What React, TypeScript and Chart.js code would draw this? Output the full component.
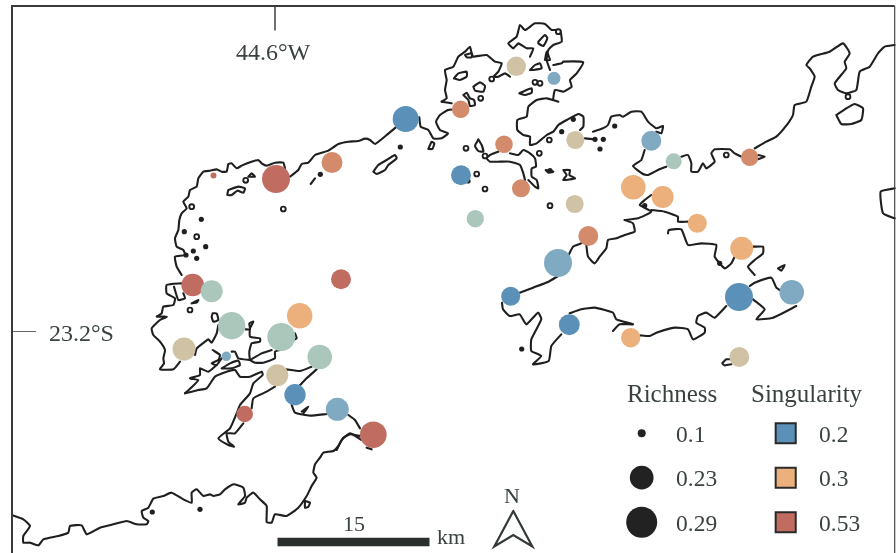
import React, { useEffect, useRef } from "react";
import { Chart, registerables } from "chart.js";

Chart.register(...registerables);

// Map coordinates: traced polylines, flat x,y lists, in map sheet units
const westShoreA = [1190,380,1160,405,1125,432,1110,420,1095,416,1075,423,1045,425,1015,432,985,452,965,458,945,465,925,488,905,492,895,510,870,530];
const westShoreB = [855,505,850,488,825,488,800,497,785,490,775,480,750,487,725,497,710,505,695,490,685,492,680,515,665,515,650,508,630,512,610,515,595,535,590,560,570,570,565,590,550,605,560,625,545,640,538,660,535,690,525,715,530,740,550,750,555,765,525,770,530,800,545,825];
const westIslandA = [1120,515,1135,495,1160,480,1185,465,1190,475,1165,495,1155,510,1130,522,1120,515];
const westIslandB = [685,570,715,560,735,565,730,578,712,572,695,585,682,585,685,570];
const westIslandC = [745,530,755,520,765,530,745,530];
const westIslandD = [1285,447,1295,425,1303,430,1297,447,1285,447];
const westIslandE = [932,552,945,535];
const eastOfBlue = [1258,352,1262,380,1285,390,1300,415,1325,415,1344,400,1320,390,1308,365,1320,345,1344,330,1360,328];

// South-west bays
const bayWest = [95,40,50,45,50,70,75,85,70,105,40,110,35,130,20,140,50,140,30,150,5,175,10,195,30,215,45,240,40,265,42,280,30,298,70,298,90,275];
const bayWestB = [72,50,85,90,105,85,100,70];
const bayIsletA = [125,100,145,90,140,98,125,100];
const bayLoop = [188,130,200,130,205,150,190,155,185,140,188,130];
const bayTanRight = [135,255,140,235,165,215,175,208,185,218,200,190,205,165];
const bayTealRight = [287,178,300,178,298,160,310,155,300,175,300,200,330,205,330,215,305,220,298,245,300,270,315,278,340,278,375,265,375,245,405,235];
const bayBranch = [300,270,335,250,365,240];
const bayMiddle = [245,245,255,245,265,265,300,270];
const bayHook = [188,240,210,255,205,270,185,280,200,285,215,265];
const bayIsland = [215,295,240,280,265,272,270,285,245,295,215,295];
const bayFringe = [105,370,125,352,145,330,120,325,150,315,150,295,175,305,200,285];
const bayPeninsula = [105,370,145,360,170,355,195,320,230,305,255,300,270,320,300,320,335,305,338,315,310,340,300,370,270,405,260,430,240,475,205,505,235,525,252,530,235,515,230,490,255,490,280,460];
const bayPeninsulaB = [305,415,310,385,350,365,375,350];
const bayRim = [410,298,450,303,485,290];
const bayRimB = [500,298,470,325,450,345];
const bayShoreA = [425,405,435,428,480,437,530,432];
const bayShoreIslet = [455,425,475,410,460,430];
const bayShoreB = [595,435,615,450,630,475];
const bayEnd = [635,510,600,490,575,510,560,540];
const bayNib = [435,190,440,205,430,210];
const shoreSouthC = [1100,515,1115,520];
const greatShore = [1080,480,1050,475,1030,485,1015,510,1000,525,970,530,960,545,945,565,940,590,950,605,935,630,920,660,895,695,860,720,825,715,815,740,800,738,800,690,780,670,760,650,740,665,735,680,715,685,735,660,730,635,700,625,675,640,660,655,640,660,630,655,610,660,590,640,575,650,575,680,550,670,515,650,490,660,460,668,445,695,425,705,430,725,445,735,440,745,410,745,380,735,340,745,300,755,260,775,245,748,210,750,205,770,175,780,130,790,115,808,90,800,70,800,70,780,90,750,70,730,37,718];
const greatShoreIsland = [915,675,930,680,925,692,915,695,915,675];

// North-central archipelago
const archA = [35,245,50,235,45,210,50,180,45,150,70,140,85,110,105,95,120,80,125,100,130,110,170,105,195,125,215,130,205,155,190,170,205,170,225,160,240,170];
const archA2 = [35,245,65,250];
const archLoopA = [72,175,85,160,110,155,110,170,90,180,72,175];
const archLoopB = [105,105,125,100,125,112,110,112,105,105];
const archLoopC = [130,200,150,187,165,198,160,215,135,212,130,200];
const archLoopD = [100,225,110,218,120,235,132,240,135,255,120,258,115,240,100,225];
const archNorth = [300,110,310,85,290,85,265,70,250,85,235,70,260,50,270,15,285,30,315,10,345,12,365,30,390,30,395,65,370,75,355,90,350,120,360,150];
const archBlob = [345,120,350,95,360,120,345,120];
const archLake = [325,65,345,45,352,55,340,78,325,70,325,65];
const archIsleA = [300,150,315,135,330,130,335,145,310,150,300,150];
const archIsleB = [268,220,285,212,305,205,305,218,285,225,268,220];
const archEast = [370,135,395,130,400,125,460,127,440,160,420,180,425,200,400,215,375,210,370,240,385,245,350,235,320,240,295,260,290,290,262,300,262,330,280,345,300,350,300,375,320,370,350,345,370,335,385,315,410,300,445,282,460,290,460,320,450,330];
const archTail = [465,355,495,358];
const archLower = [205,395,180,405,170,415,180,425,210,425,240,425,270,435,280,460,285,480];
const archLowerB = [240,400,265,405,280,390,300,400,315,415,318,440,305,445,305,470,320,480,325,505,315,500,295,480];
const archLoopE = [145,358,155,375,160,395,145,393,135,378,145,358];
const archBlobB = [347,450,370,455,355,458,347,450];
const archIsleC = [400,450,420,450,418,465,435,475,400,480,410,465,400,450];

// East coasts
const midCoastB = [435,395,465,385,480,375,490,350,515,345,525,350,550,335,580,335,600,365,625,385,645,378,640,400,625,395];
const midCoastC = [590,450,580,480,555,498,585,522,600,525,630,510,655,500];
const midCoastD = [700,470,720,465,730,490,730,515,750,515,765,490,775,505,800,485,790,460,800,448,845,448,860,460,880,470];
const northEast = [920,445,955,425,985,410,1020,370,1035,345,1040,315,1075,305,1090,260,1100,230,1085,205,1075,195,1095,170,1145,155,1185,130,1205,160,1190,185,1195,205,1160,250,1170,270,1195,280,1225,270,1235,215,1265,200,1290,160,1310,140,1340,135];
const northEastIsland = [1165,345,1195,325,1220,312,1245,325,1240,360,1210,372,1180,372,1165,345];
const eastEdge = [1340,565,1298,575,1305,640,1340,655];
const hookLoop = [930,465,950,470,930,478];
const starShore = [530,660,570,655,610,635,575,615,590,600,610,585];
const starShoreB = [610,630,650,635,690,650,690,665,720,665];
const southPenA = [530,660,555,670,560,695,530,705,505,715,480,720,475,745,455,770,440,790,420,770,415,735];
const southPenB = [400,730,375,740,362,765];
const lowerBay = [660,700,662,690,700,688,720,735,760,730,805,735,800,770,830,805,850,790,860,770];
const lowerBayB = [915,740,945,740,945,760,920,780,900,800,920,825];
const smallIsle = [990,805,1010,795,1000,812,990,805];
const eastCoastA = [905,30,920,20,970,5,985,35,1000,45];
const eastCoastB = [915,70,950,100,925,130,975,125,1045,90];
const eastCoastC = [835,90,800,125,775,110,750,120,745,140,770,155,770,170,735,190,720,160,680,155,625,170,605,180,575,178];
const eastCoastD = [495,165,515,145,555,145,505,130,495,110,440,95,400,100,365,112];
const eastCoastE = [340,175,310,210,302,255,255,265,280,240,250,225,250,190,280,130,270,110,235,145,215,115,185,120,165,100,162,80];
const eastCoastF = [215,50,255,35,300,18,330,0];
const eastCoastG = [850,250,835,250,823,262,830,268,850,265];

// Small islets: dots and rings
const dotX = [400.3,320.3,201.3,184.3,205.7,193.3,186,196.7,152.3,200,614.7,561.7,573.3,595,603.3,600,550,719.7,468,644.7,521.7];
const dotY = [147,174.3,219.3,231.7,246.7,251,255,258.3,512,509.3,126,131.7,119.3,139.3,139.3,149,170.7,263.3,181,205.7,349];
const ringX = [283.3,245.7,191.7,196.7,190,480.7,491.7,558.3,535,540,550,539.3,466,485,476.7,485,549.3,726.3,848];
const ringY = [209,180.3,206.7,236.7,310,98.3,79,31.7,82.3,83.3,205.7,153.3,148.3,156,174,189,140,155,96.7];

// Sample sites
const siteX = [213.5,276,332,405.7,516.3,554,460.7,504,575.3,651.3,673.7,749.7,461,521,633.3,662.7,574.7,475.3,697.3,588.3,741.7,558,510.7,569.3,630.7,739,791.7,739.3,192.7,211.7,341,231.7,299.7,281.3,184,226.3,319.7,277.3,295,337.3,244.7,373.3];
const siteY = [175.5,179,162.5,119,66.3,78.3,109.3,144.3,140,140.7,161.3,157.3,175.3,188.3,187.3,197,204,218.7,223.3,236,248.3,263,296.3,324.7,337.7,297,292.3,357,285,291.3,279.3,325.7,315.7,337,349,356.3,357,375.3,394.7,409.3,414,434.7];
const richness = [0.083,0.265,0.207,0.249,0.194,0.141,0.178,0.179,0.183,0.199,0.166,0.178,0.199,0.183,0.237,0.216,0.183,0.178,0.191,0.199,0.224,0.265,0.191,0.207,0.194,0.265,0.237,0.199,0.221,0.216,0.199,0.26,0.244,0.265,0.224,0.112,0.237,0.216,0.21,0.224,0.171,0.254];
const singularity = [0.53,0.53,0.38,0.2,0.27,0.23,0.38,0.38,0.27,0.23,0.25,0.38,0.2,0.38,0.3,0.3,0.27,0.25,0.3,0.38,0.3,0.23,0.2,0.2,0.3,0.2,0.23,0.27,0.53,0.25,0.53,0.25,0.3,0.25,0.27,0.23,0.25,0.27,0.2,0.23,0.53,0.53];

const singularityLevels = [0.2,0.23,0.25,0.27,0.3,0.38,0.53];
const singularityColors = ["#5b91b9","#80a9c2","#abc7bb","#d0c3a5","#ebb07b","#d38b6b","#c06c60"];

// Legend
const richnessLegend = [0.1,0.23,0.29];
const richnessLegendLabels = ["0.1","0.23","0.29"];
const singularityLegend = [0.2,0.3,0.53];
const singularityLegendLabels = ["0.2","0.3","0.53"];
const legendRowY = [433.3,477.7,522.3];
const legendLabelY = [441.7,486,531];

const radiusOf = (v: number) => 4 + (v - 0.1) * 60.5;
const colorOf = (s: number) => singularityColors[singularityLevels.indexOf(s)];

const pairs = (flat: number[], dx: number, dy: number) => {
  const out: { x: number; y: number }[] = [];
  for (let i = 0; i + 1 < flat.length; i += 2) out.push({ x: flat[i] / 3 + dx, y: flat[i + 1] / 3 + dy });
  return out;
};

const INK = "#1f1f1f";
const TEXT = "#3a4241";
type Sheet = [number[], number, number];
const sheet = (list: number[][], dx: number, dy: number): Sheet[] => list.map((a) => [a, dx, dy] as Sheet);
const shoreSets: Sheet[] = [
  ...sheet([westShoreA,westShoreB,westIslandA,westIslandB,westIslandC,westIslandD,westIslandE,eastOfBlue],0,0),
  ...sheet([bayWest,bayWestB,bayIsletA,bayLoop,bayTanRight,bayTealRight,bayBranch,bayMiddle,bayHook,bayIsland,bayFringe,bayPeninsula,bayPeninsulaB,bayRim,bayRimB,bayShoreA,bayShoreIslet,bayShoreB,bayEnd,bayNib],150,270),
  ...sheet([shoreSouthC,greatShore,greatShoreIsland],0,276),
  ...sheet([archA,archA2,archLoopA,archLoopB,archLoopC,archLoopD,archNorth,archBlob,archLake,archIsleA,archIsleB,archEast,archTail,archLower,archLowerB,archLoopE,archBlobB,archIsleC],430,20),
  ...sheet([midCoastB,midCoastC,midCoastD,northEast,northEastIsland,eastEdge,hookLoop,starShore,starShoreB,southPenA,southPenB,lowerBay,lowerBayB,smallIsle],448,0),
  ...sheet([eastCoastA,eastCoastB,eastCoastC,eastCoastD,eastCoastE,eastCoastF,eastCoastG],448,276),
];

const textItems: [string, number, number, number][] = [
  ["44.6°W", 236, 60, 24],
  ["23.2°S", 49, 341, 24],
  ["Richness", 627, 401.7, 25],
  ["Singularity", 751, 401.7, 25],
  ["15", 343, 531, 22],
  ["km", 437, 544.3, 22],
  ["N", 504, 502.7, 22],
];

const textPlugin = {
  id: "mapText",
  afterDatasetsDraw(chart: any) {
    const { ctx, scales } = chart;
    ctx.save();
    ctx.fillStyle = TEXT;
    ctx.textAlign = "left";
    ctx.textBaseline = "alphabetic";
    const put = (t: string, x: number, y: number, s: number) => {
      ctx.font = `${s}px "Liberation Serif"`;
      ctx.fillText(t, scales.x.getPixelForValue(x), scales.y.getPixelForValue(y));
    };
    textItems.forEach(([t, x, y, s]) => put(t, x, y, s));
    richnessLegendLabels.forEach((t, i) => put(t, 676, legendLabelY[i], 23.5));
    singularityLegendLabels.forEach((t, i) => put(t, 819, legendLabelY[i], 23.5));
    ctx.restore();
  },
};

const line = (data: { x: number; y: number }[], color: string, width: number, extra: object = {}) => ({
  type: "scatter" as const,
  data,
  showLine: true,
  pointRadius: 0,
  borderColor: color,
  borderWidth: width,
  borderJoinStyle: "round" as const,
  borderCapStyle: "round" as const,
  fill: false,
  order: 5,
  ...extra,
});

export default function App() {
  const ref = useRef<HTMLCanvasElement>(null);
  useEffect(() => {
    const chart = new Chart(ref.current!, {
      type: "scatter",
      data: {
        datasets: [
          {
            type: "bubble",
            data: siteX.map((x, i) => ({ x, y: siteY[i], r: radiusOf(richness[i]) })),
            backgroundColor: singularity.map(colorOf),
            borderWidth: 0,
            order: 1,
          },
          {
            type: "bubble",
            data: legendRowY.map((y, i) => ({ x: 641.7, y, r: radiusOf(richnessLegend[i]) })),
            backgroundColor: "#222222",
            borderWidth: 0,
            order: 1,
          },
          {
            type: "scatter",
            data: legendRowY.map((y) => ({ x: 785.7, y })),
            pointStyle: "rect",
            pointRadius: 14.2,
            pointBackgroundColor: singularityLegend.map(colorOf),
            pointBorderColor: "#2a2a2a",
            pointBorderWidth: 2,
            order: 1,
          },
          ...shoreSets.map(([a, dx, dy]) => line(pairs(a, dx, dy), INK, 2.1, { tension: 0.15 })),
          {
            type: "scatter",
            data: dotX.map((x, i) => ({ x, y: dotY[i] })),
            pointRadius: 2.6,
            pointBackgroundColor: INK,
            pointBorderWidth: 0,
            order: 4,
          },
          {
            type: "scatter",
            data: ringX.map((x, i) => ({ x, y: ringY[i] })),
            pointRadius: 2.4,
            pointBackgroundColor: "#ffffff",
            pointBorderColor: INK,
            pointBorderWidth: 1.9,
            order: 4,
          },
          line([{ x: 12, y: 553 }, { x: 12, y: 6 }, { x: 894.5, y: 6 }], "#3a3a3a", 2, { borderCapStyle: "butt", borderJoinStyle: "miter", order: 3 }),
          line([{ x: 894.7, y: 6 }, { x: 894.7, y: 553 }], "#3a3a3a", 1.1, { borderCapStyle: "butt", order: 3 }),
          line([{ x: 275, y: 6 }, { x: 275, y: 30 }], "#333333", 1.4, { borderCapStyle: "butt", order: 3 }),
          line([{ x: 12, y: 331.5 }, { x: 36, y: 331.5 }], "#555555", 0.9, { borderCapStyle: "butt", order: 3 }),
          line([{ x: 277.5, y: 542 }, { x: 429.5, y: 542 }], "#2a302e", 8.6, { borderCapStyle: "butt", order: 3 }),
          line([{ x: 513.3, y: 511 }, { x: 494.3, y: 546.5 }, { x: 513.3, y: 535 }, { x: 532.3, y: 546.5 }, { x: 513.3, y: 511 }], "#333a39", 2.2, { borderJoinStyle: "miter", order: 3 }),
        ] as any,
      },
      options: {
        animation: false,
        responsive: false,
        events: [],
        layout: { padding: 0, autoPadding: false },
        plugins: { legend: { display: false }, tooltip: { enabled: false } },
        scales: {
          x: { type: "linear", min: 0, max: 896, display: false },
          y: { type: "linear", min: 0, max: 553, reverse: true, display: false },
        },
      },
      plugins: [textPlugin],
    });
    return () => chart.destroy();
  }, []);
  return (
    <canvas
      ref={ref}
      width={896}
      height={553}
      style={{ position: "absolute", left: 0, top: 0, width: 896, height: 553, background: "#ffffff" }}
    />
  );
}
